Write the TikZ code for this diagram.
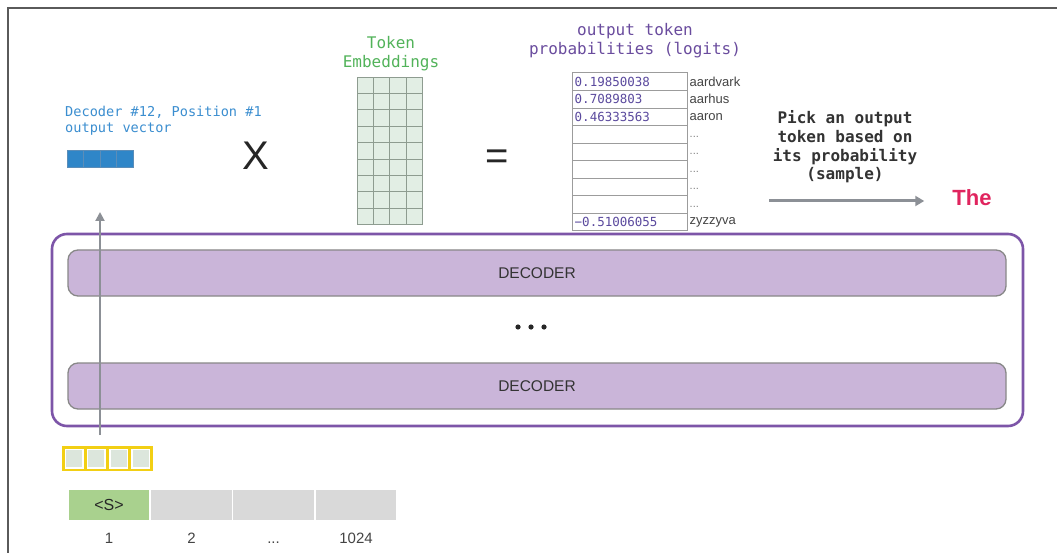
\documentclass[tikz,border=0pt]{standalone}
\usepackage{fontspec}
\setmainfont{Liberation Sans}
\setmonofont{DejaVu Sans Mono}
\usetikzlibrary{arrows.meta}
\definecolor{framegray}{HTML}{5A5A5A}
\definecolor{stackpurple}{HTML}{7D55A8}
\definecolor{decfill}{HTML}{CAB5D9}
\definecolor{decdraw}{HTML}{888888}
\definecolor{arrowgray}{HTML}{8C9096}
\definecolor{yellowb}{HTML}{F2CF14}
\definecolor{ycellfill}{HTML}{DCE6DC}
\definecolor{tokgreen}{HTML}{A9D18E}
\definecolor{tokgray}{HTML}{D9D9D9}
\definecolor{vecblue}{HTML}{2F86C8}
\definecolor{vecdraw}{HTML}{5B8DB8}
\definecolor{labblue}{HTML}{3B8ED0}
\definecolor{labgreen}{HTML}{52B35A}
\definecolor{labpurple}{HTML}{6A4C9E}
\definecolor{numpurple}{HTML}{5B4A9E}
\definecolor{gridfill}{HTML}{E2EEE4}
\definecolor{griddraw}{HTML}{8E9C90}
\definecolor{tabdraw}{HTML}{9C9C9C}
\definecolor{thepink}{HTML}{E0245E}
\definecolor{txtgray}{HTML}{444444}
\begin{document}
\begin{tikzpicture}[x=1pt,y=-1pt,
  outerbox/.style={draw=stackpurple,line width=2.6pt,rounded corners=15pt,inner sep=0pt},
  decbox/.style={draw=decdraw,fill=decfill,line width=1.3pt,rounded corners=10pt,
    minimum width=938pt,minimum height=46pt,inner sep=0pt,
    font=\fontsize{15.5}{18}\selectfont,text=black!80},
  ycell/.style={draw=yellowb,fill=white,line width=2.5pt,minimum width=22.1pt,minimum height=22.5pt,inner sep=0pt},
  yinner/.style={fill=ycellfill,minimum width=16pt,minimum height=16.5pt,inner sep=0pt},
  vcell/.style={draw=vecdraw,fill=vecblue,line width=0.8pt,minimum width=16.5pt,minimum height=17pt,inner sep=0pt},
  tokcell/.style={minimum width=80.5pt,minimum height=30pt,inner sep=0pt,font=\fontsize{16}{18}\selectfont,text=black!85},
  poslab/.style={anchor=base,inner sep=0pt,font=\fontsize{15}{18}\selectfont,text=txtgray},
  gcell/.style={draw=griddraw,fill=gridfill,line width=0.8pt,minimum width=16.4pt,minimum height=16.4pt,inner sep=0pt},
  lrow/.style={draw=tabdraw,line width=1pt,minimum width=115pt,minimum height=17.55pt,inner sep=0pt},
  numtext/.style={anchor=west,inner sep=0pt,font=\ttfamily\fontsize{12.5}{14}\selectfont,text=numpurple},
  wordtext/.style={anchor=west,inner sep=0pt,font=\fontsize{13}{15}\selectfont,text=txtgray},
  grayarrow/.style={draw=arrowgray,line width=2pt,-{Triangle[width=9pt,length=9pt]}},
  bigsym/.style={inner sep=0pt,font=\fontsize{40}{44}\selectfont,text=black!85}
]
\useasboundingbox (0,0) rectangle (1057,553);
\fill[white] (0,0) rectangle (1057,553);
% frame
\draw[framegray,line width=1.5pt] (1057,8) -- (8,8) -- (8,553);

% decoder stack
\node[outerbox,minimum width=971pt,minimum height=192pt] (stack) at (537.5,330) {};
\node[decbox] (dec1) at (537,273) {DECODER};
\node[decbox] (dec2) at (537,386) {DECODER};
\fill[black!85] (518,327) circle (2.6pt) (531,327) circle (2.6pt) (544,327) circle (2.6pt);

% input embedding (yellow)
\foreach \i in {0,...,3}{
  \node[ycell] (y\i) at ({74.3+22.125*\i},458.5) {};
  \node[yinner] (yi\i) at (y\i) {};
}
% token row
\node[tokcell,fill=tokgreen] (t1) at (109,505) {<S>};
\node[tokcell,fill=tokgray] (t2) at (191.5,505) {};
\node[tokcell,fill=tokgray] (t3) at (273.5,505) {};
\node[tokcell,fill=tokgray] (t4) at (356,505) {};
\node[poslab] (p1) at (109,543) {1};
\node[poslab] (p2) at (191.5,543) {2};
\node[poslab] (p3) at (273.5,543) {...};
\node[poslab] (p4) at (356,543) {1024};

% upward arrow
\coordinate (upA) at (100,435);
\coordinate (upB) at (100,212);
\draw[grayarrow] (upA) -- (upB);

% output vector
\node[anchor=west,inner sep=0pt,align=left,font=\ttfamily\fontsize{13.6}{16}\selectfont,text=labblue] (veclab) at (65,121) {Decoder \#12, Position \#1\\output vector};
\foreach \i in {0,...,3}{
  \node[vcell] (v\i) at ({75.25+16.5*\i},158.5) {};
}

\node[bigsym] (times) at (256,156) {X};

% token embeddings
\node[inner sep=0pt,align=center,font=\ttfamily\fontsize{16}{19}\selectfont,text=labgreen] (emblab) at (391,54) {Token\\Embeddings};
\foreach \r in {0,...,8}{
  \foreach \c in {0,...,3}{
    \node[gcell] (g-\r-\c) at ({357+8.2+16.4*\c},{77+8.2+16.4*\r}) {};
  }
}

\node[bigsym] (equals) at (497,160) {=};

% logits
\node[inner sep=0pt,align=center,font=\ttfamily\fontsize{16}{19}\selectfont,text=labpurple] (loglab) at (635,40.5) {output token\\probabilities (logits)};
\foreach \r in {1,...,9}{
  \node[lrow] (L\r) at (629.5,{73+17.55*(\r-0.5)}) {};
}
\node[numtext] (n1) at ([xshift=3pt]L1.west) {0.19850038};
\node[numtext] (n2) at ([xshift=3pt]L2.west) {0.7089803};
\node[numtext] (n3) at ([xshift=3pt]L3.west) {0.46333563};
\node[numtext] (n9) at ([xshift=3pt]L9.west) {−0.51006055};
\node[wordtext] (w1) at ([xshift=2pt]L1.east) {aardvark};
\node[wordtext] (w2) at ([xshift=2pt]L2.east) {aarhus};
\node[wordtext] (w3) at ([xshift=2pt]L3.east) {aaron};
\foreach \r in {4,...,8}{
  \node[wordtext,font=\fontsize{11}{12}\selectfont,text=gray] (w\r) at ([xshift=2pt,yshift=-2pt]L\r.east) {...};
}
\node[wordtext] (w9) at ([xshift=2pt]L9.east) {zyzzyva};

% sampling
\node[inner sep=0pt,align=center,font=\ttfamily\bfseries\fontsize{16}{18.6}\selectfont,text=black!80] (pick) at (845,147) {Pick an output\\token based on\\its probability\\(sample)};
\coordinate (sA) at (769,201);
\node[inner sep=0pt,font=\bfseries\fontsize{22}{24}\selectfont,text=thepink] (the) at (972,198) {The};
\draw[grayarrow,line width=3pt,-{Triangle[width=10pt,length=9pt]}] (sA) -- ([xshift=-28pt]the.west |- sA);
\end{tikzpicture}
\end{document}
